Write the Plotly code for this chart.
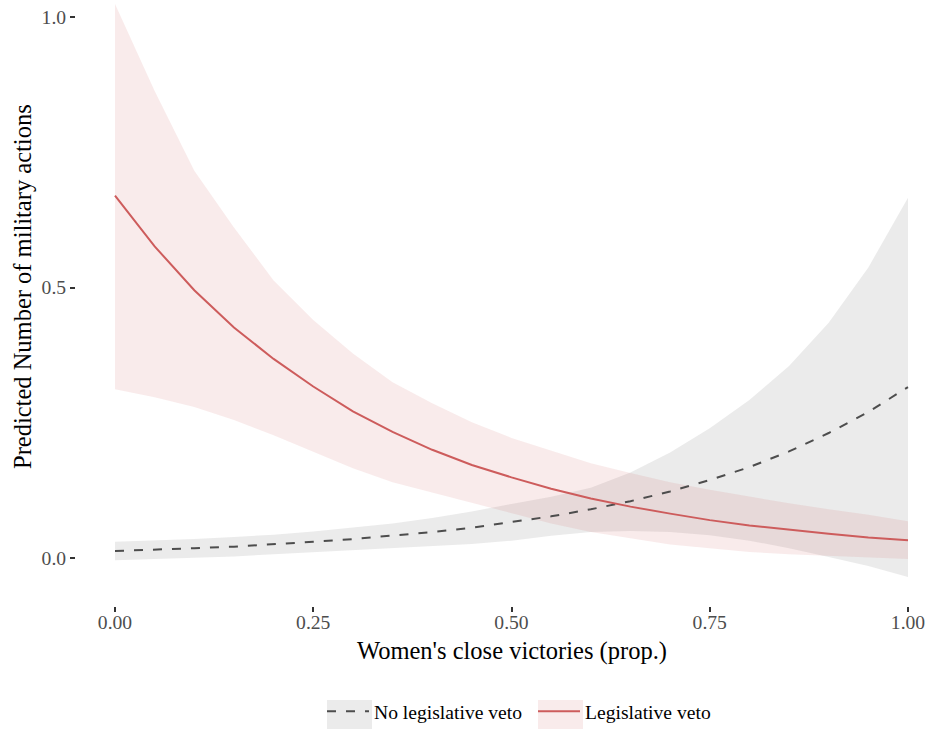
import plotly.graph_objects as go

# ---- data ----
x_vals = [0.00, 0.05, 0.10, 0.15, 0.20, 0.25, 0.30, 0.35, 0.40, 0.45, 0.50,
          0.55, 0.60, 0.65, 0.70, 0.75, 0.80, 0.85, 0.90, 0.95, 1.00]

no_veto_fit = [0.013, 0.015, 0.018, 0.021, 0.025, 0.030, 0.035, 0.041, 0.048, 0.056, 0.066,
               0.077, 0.090, 0.105, 0.123, 0.144, 0.168, 0.197, 0.231, 0.270, 0.316]
no_veto_hi = [0.030, 0.032, 0.035, 0.039, 0.043, 0.049, 0.056, 0.064, 0.074, 0.086, 0.100,
              0.113, 0.130, 0.158, 0.195, 0.240, 0.292, 0.355, 0.435, 0.537, 0.666]
no_veto_lo = [-0.004, -0.002, 0.001, 0.003, 0.007, 0.011, 0.014, 0.018, 0.022, 0.026, 0.032,
              0.041, 0.048, 0.050, 0.048, 0.042, 0.032, 0.018, 0.002, -0.015, -0.035]

veto_fit = [0.670, 0.576, 0.495, 0.426, 0.368, 0.317, 0.271, 0.233, 0.200, 0.172, 0.149,
            0.128, 0.110, 0.095, 0.082, 0.070, 0.060, 0.052, 0.045, 0.038, 0.033]
veto_hi = [1.024, 0.863, 0.716, 0.611, 0.513, 0.440, 0.378, 0.325, 0.286, 0.251, 0.222,
           0.199, 0.175, 0.157, 0.140, 0.126, 0.113, 0.101, 0.090, 0.080, 0.068]
veto_lo = [0.312, 0.297, 0.279, 0.255, 0.227, 0.196, 0.166, 0.140, 0.121, 0.102, 0.082,
           0.064, 0.048, 0.036, 0.025, 0.018, 0.011, 0.007, 0.004, 0.002, -0.002]

x_ticks = [0.0, 0.25, 0.5, 0.75, 1.0]
x_tick_labels = ["0.00", "0.25", "0.50", "0.75", "1.00"]
y_ticks = [0.0, 0.5, 1.0]
y_tick_labels = ["0.0", "0.5", "1.0"]

series_names = ["No legislative veto", "Legislative veto"]

# ---- style ----
FONT = "Liberation Serif, Times New Roman, serif"
GRAY_LINE = "#4D4D4D"
RED_LINE = "#CD5C5C"
GRAY_FILL = "rgba(153,153,153,0.2)"
RED_FILL = "rgba(205,92,92,0.12)"
GRAY_KEY = "#EBEBEB"
RED_KEY = "#F9EBEB"
TICK_SIZE = 19.6
TITLE_SIZE = 24.5

fig = go.Figure()

# ribbons
fig.add_trace(go.Scatter(x=x_vals, y=no_veto_lo, mode="lines", line=dict(width=0),
                         showlegend=False, hoverinfo="skip"))
fig.add_trace(go.Scatter(x=x_vals, y=no_veto_hi, mode="lines", line=dict(width=0),
                         fill="tonexty", fillcolor=GRAY_FILL, showlegend=False, hoverinfo="skip"))
fig.add_trace(go.Scatter(x=x_vals, y=veto_lo, mode="lines", line=dict(width=0),
                         showlegend=False, hoverinfo="skip"))
fig.add_trace(go.Scatter(x=x_vals, y=veto_hi, mode="lines", line=dict(width=0),
                         fill="tonexty", fillcolor=RED_FILL, showlegend=False, hoverinfo="skip"))

# fitted lines
fig.add_trace(go.Scatter(x=x_vals, y=no_veto_fit, mode="lines", name=series_names[0],
                         line=dict(color=GRAY_LINE, width=2, dash="9px,10px")))
fig.add_trace(go.Scatter(x=x_vals, y=veto_fit, mode="lines", name=series_names[1],
                         line=dict(color=RED_LINE, width=2)))

W, H = 928, 731
L, R, T = 76, 0, 0
PB = 606                  # plot bottom in px
B = H - PB
PH = PB - T
PW = W - L - R

def px_x(px):
    return (px - L) / PW

def px_y(py):
    return (PB - py) / PH

# y data mapping: 0 at px 558, 1.0 at px 17
y_per_px = 1.0 / (558 - 17)
y_top = 1.0 + 17 * y_per_px
y_bot = -(606 - 558) * y_per_px
# x data mapping: 0 at px 115, 1 at px 908
x_per_px = 1.0 / (908 - 115)
x_left = -(115 - 76) * x_per_px
x_right = 1.0 + (928 - 908) * x_per_px

shapes = [
    dict(type="rect", xref="paper", yref="paper", layer="below",
         x0=px_x(327), x1=px_x(372), y0=px_y(729), y1=px_y(700),
         fillcolor=GRAY_KEY, line=dict(width=0)),
    dict(type="rect", xref="paper", yref="paper", layer="below",
         x0=px_x(538), x1=px_x(583), y0=px_y(729), y1=px_y(700),
         fillcolor=RED_KEY, line=dict(width=0)),
]

fig.update_layout(
    width=W, height=H,
    margin=dict(l=L, r=R, t=T, b=B, pad=0),
    paper_bgcolor="white", plot_bgcolor="white",
    font=dict(family=FONT, size=TICK_SIZE, color="#4D4D4D"),
    showlegend=True,
    legend=dict(orientation="h", traceorder="normal",
                x=px_x(322), xanchor="left", y=px_y(731), yanchor="bottom",
                font=dict(family=FONT, size=TICK_SIZE, color="black"),
                itemwidth=42, entrywidth=154, entrywidthmode="pixels",
                bgcolor="rgba(0,0,0,0)"),
    xaxis=dict(range=[x_left, x_right], tickvals=x_ticks, ticktext=x_tick_labels,
               showgrid=False, zeroline=False, showline=False,
               ticks="outside", ticklen=5, tickwidth=1.5, tickcolor="#333333",
               ticklabeloverflow="allow", ticklabelstandoff=-7,
               tickfont=dict(family=FONT, size=TICK_SIZE, color="#4D4D4D")),
    yaxis=dict(range=[y_bot, y_top], tickvals=y_ticks, ticktext=y_tick_labels,
               showgrid=False, zeroline=False, showline=False,
               ticks="outside", ticklen=5, tickwidth=1.5, tickcolor="#333333",
               ticklabeloverflow="allow",
               tickfont=dict(family=FONT, size=TICK_SIZE, color="#4D4D4D")),
    shapes=shapes,
    annotations=[
        dict(text="Women's close victories (prop.)", xref="paper", yref="paper",
             x=px_x(512), y=px_y(651),
             xanchor="center", yanchor="middle", showarrow=False,
             font=dict(family=FONT, size=TITLE_SIZE, color="black")),
        dict(text="Predicted Number of military actions", xref="paper", yref="paper",
             x=px_x(22), y=px_y(287), textangle=-90,
             xanchor="center", yanchor="middle", showarrow=False,
             font=dict(family=FONT, size=TITLE_SIZE, color="black")),
    ],
)

# remove the default 8px page margin so the 928x731 figure fills the window exactly
fig.write_html("out.html",
               config={"displayModeBar": False},
               post_script="document.body.style.margin='0px';document.body.style.overflow='hidden';")
